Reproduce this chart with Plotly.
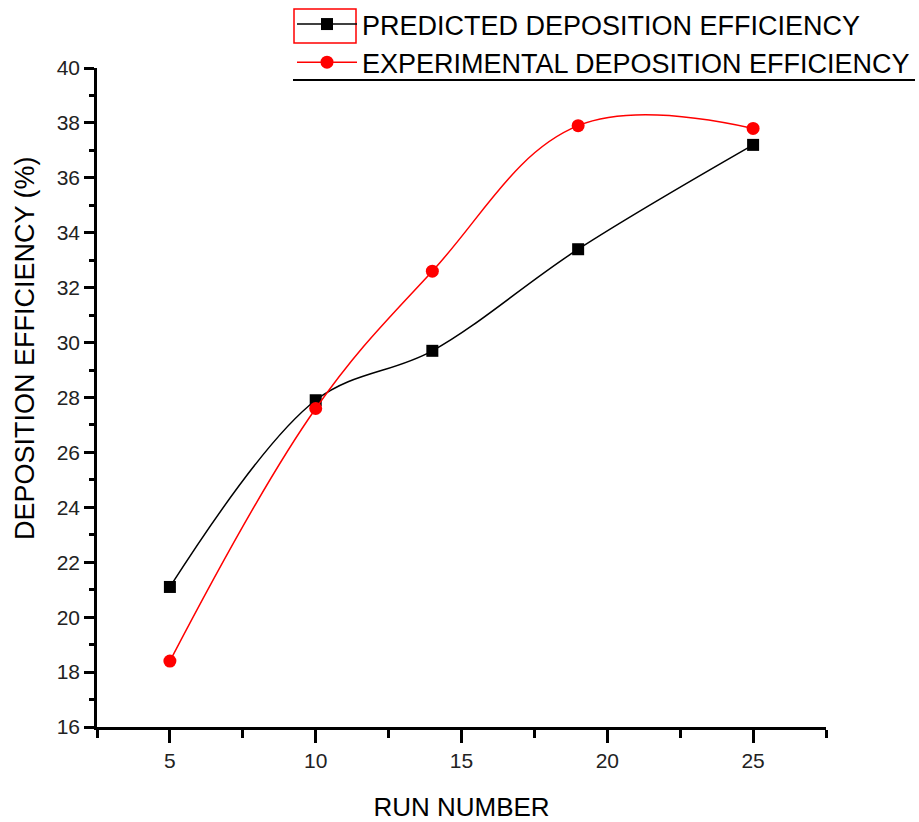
import plotly.graph_objects as go

run_number = [5, 10, 14, 19, 25]
predicted = [21.1, 27.9, 29.7, 33.4, 37.2]
experimental = [18.4, 27.6, 32.6, 37.9, 37.8]
y_ticks = [16, 18, 20, 22, 24, 26, 28, 30, 32, 34, 36, 38, 40]
x_ticks = [5, 10, 15, 20, 25]

FONT = "Liberation Sans, Arial, sans-serif"
W, H = 919, 822

fig = go.Figure()
fig.add_trace(go.Scatter(
    x=run_number, y=predicted, mode="lines+markers",
    name="PREDICTED DEPOSITION EFFICIENCY",
    line=dict(color="black", width=1.5, shape="spline", smoothing=1),
    marker=dict(symbol="square", size=12, color="black"),
))
fig.add_trace(go.Scatter(
    x=run_number, y=experimental, mode="lines+markers",
    name="EXPERIMENTAL DEPOSITION EFFICIENCY",
    line=dict(color="red", width=1.5, shape="spline", smoothing=1.1),
    marker=dict(symbol="circle", size=13, color="red"),
))

axis_common = dict(
    showgrid=False, zeroline=False, showline=True, linecolor="black", linewidth=2.5,
    ticks="outside", tickwidth=2.5, tickcolor="black",
    tickfont=dict(family=FONT, size=21, color="#222"),
    automargin=False,
)

fig.update_xaxes(range=[2.5, 27.5], tickvals=x_ticks, ticktext=[str(v) for v in x_ticks],
                 ticklen=13,
                 minor=dict(ticks="outside", ticklen=8, tickwidth=2.5, tickcolor="black",
                            dtick=2.5, tick0=2.5),
                 title=dict(text="RUN NUMBER", font=dict(family=FONT, size=26, color="black"), standoff=30),
                 **axis_common)
fig.update_yaxes(range=[16, 40], tickvals=y_ticks, ticktext=[str(v) for v in y_ticks],
                 ticklen=10,
                 minor=dict(ticks="outside", ticklen=5, tickwidth=2.5, tickcolor="black",
                            dtick=1, tick0=16),
                 **axis_common)

fig.add_annotation(text="DEPOSITION EFFICIENCY (%)", xref="paper", yref="paper",
                   x=(25 - 97) / 729, y=(727 - 348) / 659, textangle=-90,
                   xanchor="center", yanchor="middle",
                   showarrow=False, font=dict(family=FONT, size=27, color="black"))

fig.update_layout(
    width=W, height=H,
    margin=dict(l=97, r=93, t=68, b=95, autoexpand=False),
    plot_bgcolor="white", paper_bgcolor="white",
    showlegend=True,
    legend=dict(xref="container", yref="container",
                x=292 / W, y=1.0, xanchor="left", yanchor="top",
                font=dict(family=FONT, size=27, color="black"),
                itemwidth=60, bgcolor="rgba(0,0,0,0)", tracegroupgap=0),
)

# red box around first legend symbol and line under legend
fig.add_shape(type="rect", xref="paper", yref="paper",
              x0=(294 - 97) / 729, x1=(356 - 97) / 729,
              y0=(727 - 9) / 659, y1=(727 - 43) / 659,
              line=dict(color="red", width=1.5))
fig.add_shape(type="line", xref="paper", yref="paper",
              x0=(293 - 97) / 729, x1=(915 - 97) / 729,
              y0=(727 - 80) / 659, y1=(727 - 80) / 659,
              line=dict(color="black", width=2))

fig.write_html("out.html", config={"displayModeBar": False},
               post_script="document.body.style.margin='0';document.body.style.padding='0';")
